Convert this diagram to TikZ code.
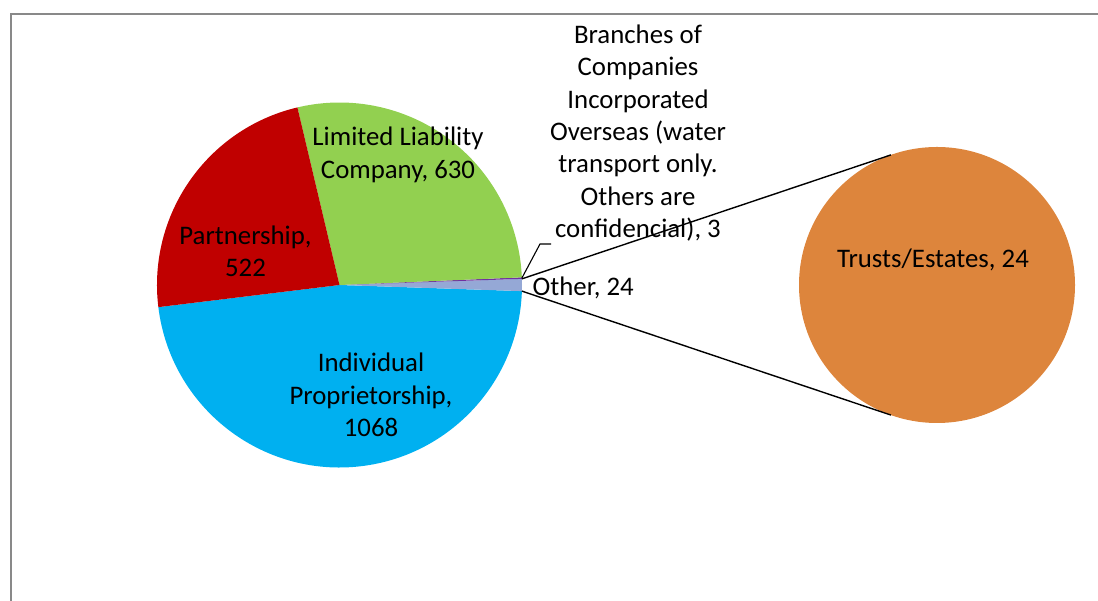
\documentclass[tikz,border=0pt]{standalone}
\usepackage{fontspec}
\setmainfont{Carlito}
\definecolor{llc}{HTML}{92D050}
\definecolor{partner}{HTML}{C00000}
\definecolor{indiv}{HTML}{00B0F0}
\definecolor{otherc}{RGB}{149,168,214}
\definecolor{branch}{HTML}{7030A0}
\definecolor{trusts}{RGB}{221,133,60}
\definecolor{framegray}{RGB}{137,137,137}
\tikzset{
  lbl/.style={font=\fontsize{26.8bp}{32.4bp}\selectfont, align=center, inner sep=0pt, anchor=base},
  connector/.style={draw=black, line width=1.4bp},
  leader/.style={draw=black, line width=1.1bp},
}
\begin{document}
\begin{tikzpicture}[x=1bp,y=1bp]
\useasboundingbox (0,0) rectangle (1098,601);
\draw[framegray, line width=2.4bp] (11,-20) rectangle (1110,587);
\coordinate (c1) at (339.5,316);
\coordinate (c2) at (937,316);
\def\R{182.5}
% main pie slices
\fill[indiv] (c1) -- ++(186.970:\R) arc[start angle=186.970, end angle=358.078, radius=\R] -- cycle;
\fill[otherc] (c1) -- ++(-1.923:\R) arc[start angle=-1.923, end angle=1.923, radius=\R] -- cycle;
\fill[branch] (c1) -- ++(1.923:\R) arc[start angle=1.923, end angle=2.403, radius=\R] -- cycle;
\fill[llc] (c1) -- ++(2.403:\R) arc[start angle=2.403, end angle=103.338, radius=\R] -- cycle;
\fill[partner] (c1) -- ++(103.338:\R) arc[start angle=103.338, end angle=186.970, radius=\R] -- cycle;
% second pie
\node[circle, fill=trusts, minimum size=276bp, inner sep=0pt] (pie2) at (c2) {};
% connectors between pies
\path (c1) ++(1.923:\R) coordinate (o1);
\path (c1) ++(-1.923:\R) coordinate (o2);
\path (c2) ++(109.5:138) coordinate (t1);
\path (c2) ++(-109.5:138) coordinate (t2);
\draw[connector] (o1) -- (t1);
\draw[connector] (o2) -- (t2);
% leader for branches label
\path (c1) ++(2.16:\R) coordinate (b1);
\coordinate (b2) at (540,357);
\coordinate (b3) at (551,357);
\draw[leader] (b1) -- (b2) -- (b3);
% labels (anchor base = baseline of last line)
\node[lbl] (lLLC) at (398,422.7) {Limited Liability\\Company, 630};
\node[lbl] (lPart) at (245.5,324.3) {Partnership,\\522};
\node[lbl] (lInd) at (371,164.3) {Individual\\Proprietorship,\\1068};
\node[lbl] (lBr) at (638,363.3) {Branches of\\Companies\\Incorporated\\Overseas (water\\transport only.\\Others are\\confidencial), 3};
\node[lbl, anchor=base west] (lOther) at (532.5,305) {Other, 24};
\node[lbl] (lTrust) at (933,333.7) {Trusts/Estates, 24};
\end{tikzpicture}
\end{document}
